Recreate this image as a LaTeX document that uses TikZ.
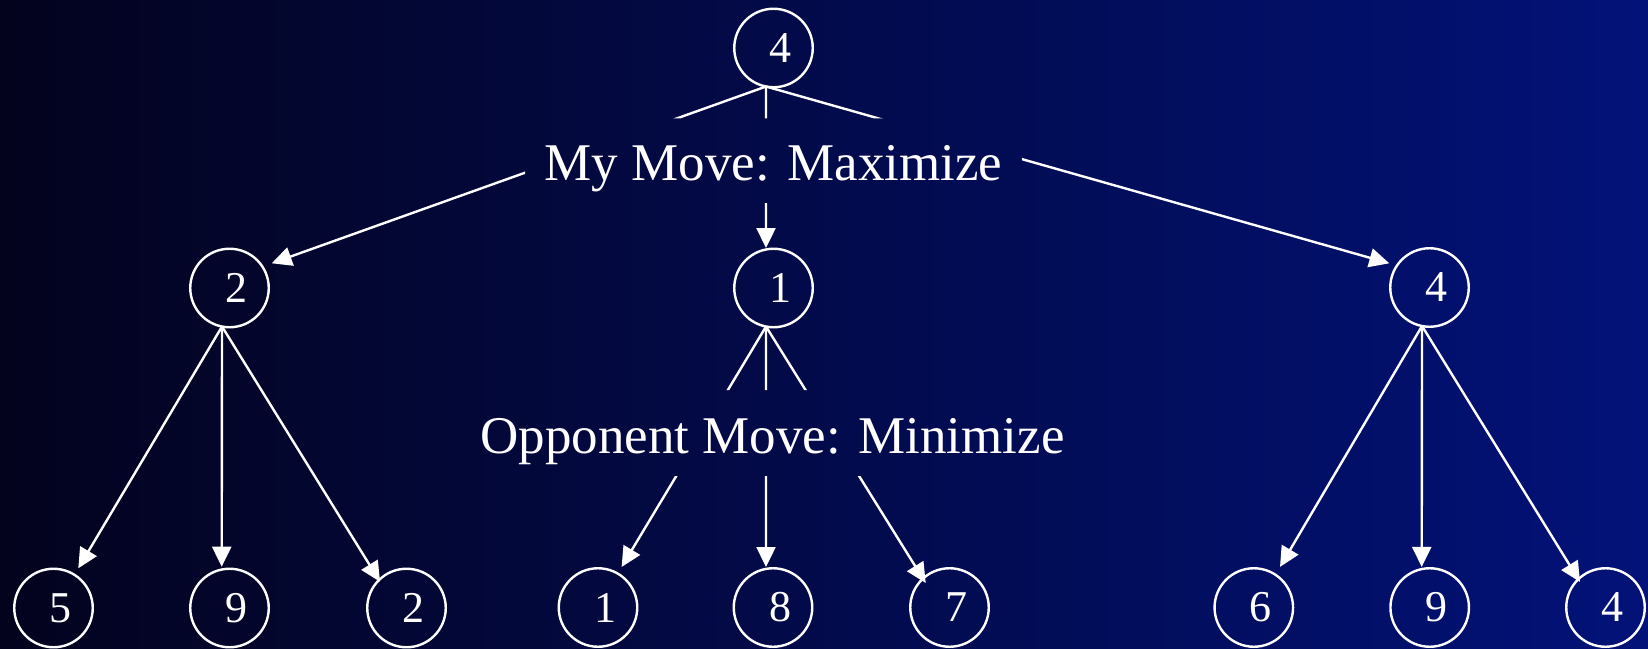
\documentclass[tikz,border=0pt]{standalone}
\usepackage{fontspec}
\setmainfont{Liberation Serif}
\usetikzlibrary{arrows.meta,calc}
\definecolor{bgleft}{RGB}{3,3,30}
\definecolor{bgright}{RGB}{2,18,120}
\tikzset{
  val/.style={circle, draw=white, line width=2.4pt, minimum size=78.5pt,
    inner sep=0pt, outer sep=0pt, text=white,
    font=\fontsize{44}{50}\selectfont},
  movelabel/.style={inner sep=0pt, outer sep=0pt, text=white,
    font=\fontsize{53}{60}\selectfont, text depth=12pt},
  edge/.style={draw=white, line width=2.4pt,
    -{Triangle[length=20pt,width=19pt]}},
  plainedge/.style={draw=white, line width=2.4pt}
}
\newcommand{\val}[1]{\hspace*{14pt}#1}
\begin{document}
\begin{tikzpicture}[x=1pt,y=-1pt]
  \useasboundingbox (0,0) rectangle (1648,648);
  \shade[left color=bgleft, right color=bgright] (0,0) rectangle (1648,648);

  % root
  \node[val] (T) at (773.5,48) {\val{4}};

  % level 1
  \node[val] (L) at (229.5,288) {\val{2}};
  \node[val] (M) at (773.5,288) {\val{1}};
  \node[val] (R) at (1429.5,287.5) {\val{4}};

  % leaves
  \node[val] (L1) at (53.5,608) {\val{5}};
  \node[val] (L2) at (229.5,608) {\val{9}};
  \node[val] (L3) at (406.5,608) {\val{2}};
  \node[val] (M1) at (598,607.5) {\val{1}};
  \node[val] (M2) at (773,607.5) {\val{8}};
  \node[val] (M3) at (949.5,607.5) {\val{7}};
  \node[val] (R1) at (1253.8,607.5) {\val{6}};
  \node[val] (R2) at (1429.7,607.5) {\val{9}};
  \node[val] (R3) at (1605.5,607.5) {\val{4}};

  % move labels sitting on the edges
  \node[movelabel, text height=50.7pt, minimum width=497pt, minimum height=84.7pt]
    (max) at (773.5,160.65) {My Move: Maximize};
  \node[movelabel, text height=52pt, minimum width=623pt, minimum height=86pt]
    (min) at (772.5,433) {Opponent Move: Minimize};

  % root edges, interrupted by the "Maximize" label
  \begin{scope}
    \clip (0,0) rectangle (1648,648) (max.north east) rectangle (max.south west);
    \draw[edge] (T.259) -- ($(L)+(42.2,-24.7)$);
    \draw[edge] (T.259) -- ($(M)+(-7.5,-40)$);
    \draw[edge] (T.259) -- ($(R)+(-40.2,-24.2)$);
  \end{scope}

  % middle edges, interrupted by the "Minimize" label
  \begin{scope}
    \clip (0,0) rectangle (1648,648) (min.north east) rectangle (min.south west);
    \draw[edge] (M.259) -- ($(M1)+(23.6,-40.5)$);
    \draw[edge] (M.259) -- ($(M2)+(-7,-40.5)$);
    \draw[edge] (M.259) -- ($(M3)+(-23.8,-24.5)$);
  \end{scope}

  % left subtree
  \draw[edge] (L.259) -- ($(L1)+(24.8,-39.7)$);
  \draw[edge] (L.259) -- ($(L2)+(-7.8,-41.3)$);
  \draw[edge] (L.259) -- ($(L3)+(-26.5,-26.3)$);

  % right subtree
  \draw[edge] (R.259) -- ($(R1)+(26.2,-40.6)$);
  \draw[edge] (R.259) -- ($(R2)+(-8,-40.6)$);
  \draw[edge] (R.259) -- ($(R3)+(-25.5,-25.6)$);
\end{tikzpicture}
\end{document}
